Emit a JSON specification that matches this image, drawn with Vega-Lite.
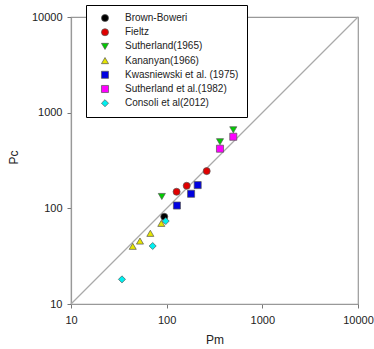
{
  "$schema": "https://vega.github.io/schema/vega-lite/v6.json",
  "width": 287,
  "height": 287,
  "autosize": {"type": "none"},
  "padding": {"left": 71, "top": 17, "right": 16, "bottom": 45},
  "background": "white",
  "config": {
    "view": {"stroke": "#999999", "strokeWidth": 1.2},
    "font": "Liberation Sans"
  },
  "datasets": {
    "pts": [
      {"series": "Brown-Boweri", "Pm": 94.4, "Pc": 81.7},
      {"series": "Fieltz", "Pm": 127, "Pc": 149},
      {"series": "Fieltz", "Pm": 162, "Pc": 172},
      {"series": "Fieltz", "Pm": 262, "Pc": 245},
      {"series": "Sutherland(1965)", "Pm": 89, "Pc": 133},
      {"series": "Sutherland(1965)", "Pm": 361, "Pc": 497},
      {"series": "Sutherland(1965)", "Pm": 497, "Pc": 662},
      {"series": "Kananyan(1966)", "Pm": 44.2, "Pc": 40.1},
      {"series": "Kananyan(1966)", "Pm": 52.6, "Pc": 45.5},
      {"series": "Kananyan(1966)", "Pm": 67.5, "Pc": 54.8},
      {"series": "Kananyan(1966)", "Pm": 87.9, "Pc": 69.7},
      {"series": "Kwasniewski et al. (1975)", "Pm": 128, "Pc": 107},
      {"series": "Kwasniewski et al. (1975)", "Pm": 180, "Pc": 142},
      {"series": "Kwasniewski et al. (1975)", "Pm": 211, "Pc": 175},
      {"series": "Sutherland et al.(1982)", "Pm": 361, "Pc": 420},
      {"series": "Sutherland et al.(1982)", "Pm": 497, "Pc": 560},
      {"series": "Consoli et al(2012)", "Pm": 97.7, "Pc": 73.6},
      {"series": "Consoli et al(2012)", "Pm": 71.4, "Pc": 40.4},
      {"series": "Consoli et al(2012)", "Pm": 34.1, "Pc": 18.1}
    ],
    "diag": [
      {"Pm": 10, "Pc": 10},
      {"Pm": 10000, "Pc": 10000}
    ]
  },
  "layer": [
    {
      "data": {"name": "diag"},
      "mark": {"type": "line", "color": "#aaaaaa", "strokeWidth": 1.2},
      "encoding": {
        "x": {"field": "Pm", "type": "quantitative"},
        "y": {"field": "Pc", "type": "quantitative"}
      }
    },
    {
      "data": {"name": "pts"},
      "mark": {"type": "point", "filled": true, "size": 50, "stroke": "#555555", "strokeWidth": 0.7, "opacity": 1},
      "encoding": {
        "x": {
          "field": "Pm", "type": "quantitative",
          "scale": {"type": "log", "domain": [10, 10000], "nice": false},
          "axis": {
            "title": "Pm", "values": [10, 100, 1000, 10000], "format": "d", "grid": false,
            "domainColor": "#999999", "domainWidth": 1.2, "tickColor": "#777777", "tickSize": 4,
            "labelPadding": 6, "labelFontSize": 11, "labelColor": "#222222", "labelFlush": false,
            "titleFontSize": 12, "titleFontWeight": "normal", "titleColor": "#222222",
            "titleY": 35, "titleBaseline": "middle"
          }
        },
        "y": {
          "field": "Pc", "type": "quantitative",
          "scale": {"type": "log", "domain": [10, 10000], "nice": false},
          "axis": {
            "title": "Pc", "values": [10, 100, 1000, 10000], "format": "d", "grid": false,
            "domainColor": "#999999", "domainWidth": 1.2, "tickColor": "#777777", "tickSize": 4,
            "labelPadding": 5, "labelFontSize": 11, "labelColor": "#222222", "labelFlush": false,
            "titleFontSize": 12, "titleFontWeight": "normal", "titleColor": "#222222",
            "titleX": -58, "titleY": 140, "titleBaseline": "middle"
          }
        },
        "color": {
          "field": "series", "type": "nominal",
          "scale": {
            "domain": ["Brown-Boweri", "Fieltz", "Sutherland(1965)", "Kananyan(1966)", "Kwasniewski et al. (1975)", "Sutherland et al.(1982)", "Consoli et al(2012)"],
            "range": ["#000000", "#e00000", "#00cc00", "#e6e600", "#0000e0", "#ff00ff", "#00f0f0"]
          },
          "legend": {
            "title": null, "orient": "none", "legendX": 15, "legendY": -12,
            "strokeColor": "#000000", "fillColor": "#ffffff", "padding": 8,
            "labelFontSize": 10, "labelColor": "#222222", "labelOffset": 15,
            "symbolSize": 50, "symbolStrokeColor": "#555555", "symbolStrokeWidth": 0.7,
            "rowPadding": 4.2, "symbolOffset": 6
          }
        },
        "shape": {
          "field": "series", "type": "nominal",
          "scale": {
            "domain": ["Brown-Boweri", "Fieltz", "Sutherland(1965)", "Kananyan(1966)", "Kwasniewski et al. (1975)", "Sutherland et al.(1982)", "Consoli et al(2012)"],
            "range": ["circle", "circle", "triangle-down", "triangle-up", "square", "square", "diamond"]
          }
        }
      }
    }
  ]
}
